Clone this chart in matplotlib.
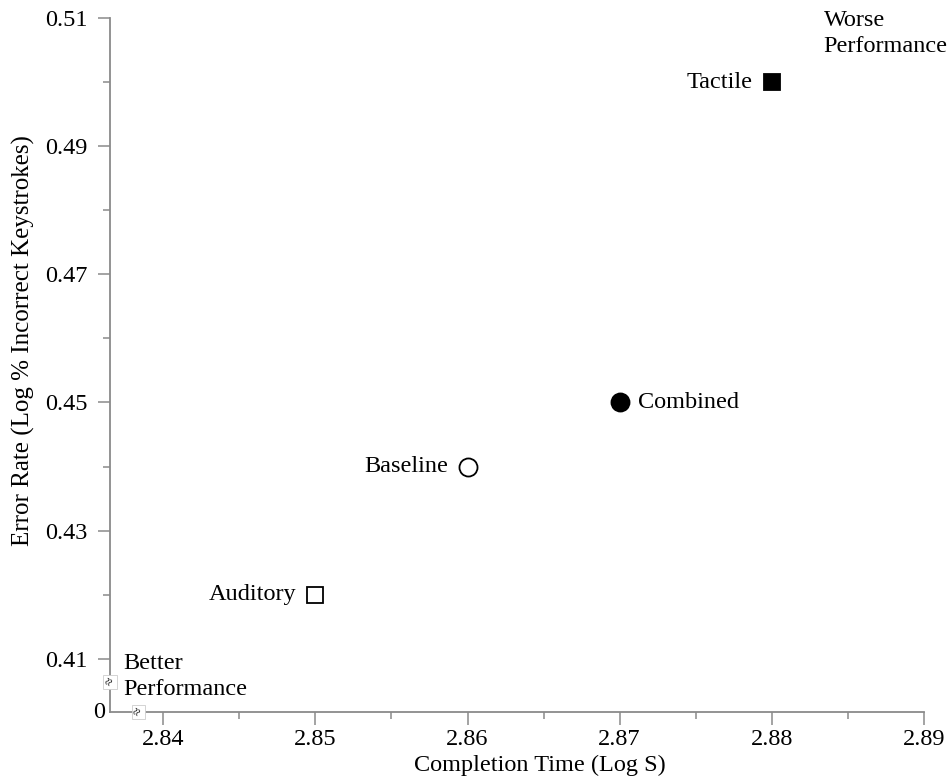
import matplotlib.pyplot as plt
from matplotlib.ticker import MultipleLocator, FixedLocator
from matplotlib.patches import Rectangle

plt.rcParams['font.family'] = ['Liberation Serif', 'DejaVu Serif']

# data
conditions = ['Tactile', 'Combined', 'Baseline', 'Auditory']
completion_time = [2.88, 2.87, 2.86, 2.85]
error_rate = [0.50, 0.45, 0.44, 0.42]
markers = ['s', 'o', 'o', 's']
filled = [True, True, False, False]
label_side = ['left', 'right', 'left', 'left']

xticks = [2.84, 2.85, 2.86, 2.87, 2.88, 2.89]
yticks = [0.41, 0.43, 0.45, 0.47, 0.49, 0.51]

FS = 17.5

fig = plt.figure(figsize=(9.5, 7.81), dpi=100)
ax = fig.add_axes([0.1158, 0.0883, 0.8568, 0.8887])

for x, y, m, f, name, side in zip(completion_time, error_rate, markers, filled, conditions, label_side):
    ms = 12 if m == 's' else 13
    ax.plot(x, y, marker=m, ms=ms, mec='black', mew=1.3,
            mfc='black' if f else 'white', ls='none', clip_on=False)
    if side == 'left':
        ax.annotate(name, (x, y), xytext=(-14, 0), textcoords='offset points',
                    ha='right', va='center', fontsize=FS)
    else:
        ax.annotate(name, (x, y), xytext=(13, 0), textcoords='offset points',
                    ha='left', va='center', fontsize=FS)

ax.set_xlim(2.8365, 2.89)
ax.set_ylim(0.4017, 0.51)
ax.xaxis.set_major_locator(FixedLocator(xticks))
ax.yaxis.set_major_locator(FixedLocator(yticks))
ax.xaxis.set_minor_locator(MultipleLocator(0.005))
ax.yaxis.set_minor_locator(MultipleLocator(0.01))
ax.set_xticklabels([f'{t:.2f}' for t in xticks])
ax.set_yticklabels([f'{t:.2f}' for t in yticks])

for s in ['top', 'right']:
    ax.spines[s].set_visible(False)
for s in ['left', 'bottom']:
    ax.spines[s].set_color('#8a8a8a')
    ax.spines[s].set_linewidth(1.3)
ax.tick_params(which='major', length=9, width=1.1, color='#8a8a8a', labelsize=FS)
ax.tick_params(axis='y', which='major', pad=7)
ax.tick_params(axis='x', which='major', pad=3)
ax.tick_params(which='minor', length=5, width=1.1, color='#8a8a8a')

ax.set_xlabel('Completion Time (Log S)', fontsize=FS)
ax.set_ylabel('Error Rate (Log % Incorrect Keystrokes)', fontsize=18)
ax.xaxis.set_label_coords(0.528, -0.061)
ax.yaxis.set_label_coords(-0.092, 0.535)

# origin label and axis break marks
ax.text(-0.006, 0.0, '0', transform=ax.transAxes, ha='right', va='center', fontsize=FS)
for bx, by in [(0.0, 0.043), (0.035, 0.0)]:
    ax.add_patch(Rectangle((bx - 0.0085, by - 0.01), 0.017, 0.02, transform=ax.transAxes,
                           fc='white', ec='#cccccc', lw=0.6, clip_on=False, zorder=5))
    ax.text(bx, by, '≈', transform=ax.transAxes, ha='center', va='center',
            fontsize=10, rotation=60, zorder=6)

ax.text(2.8374, 0.4109, 'Better\nPerformance', ha='left', va='top', fontsize=FS, linespacing=1.3)
ax.text(2.8834, 0.5112, 'Worse\nPerformance', ha='left', va='top', fontsize=FS,
        linespacing=1.3, clip_on=False)

fig.savefig('out.png', dpi=100)
